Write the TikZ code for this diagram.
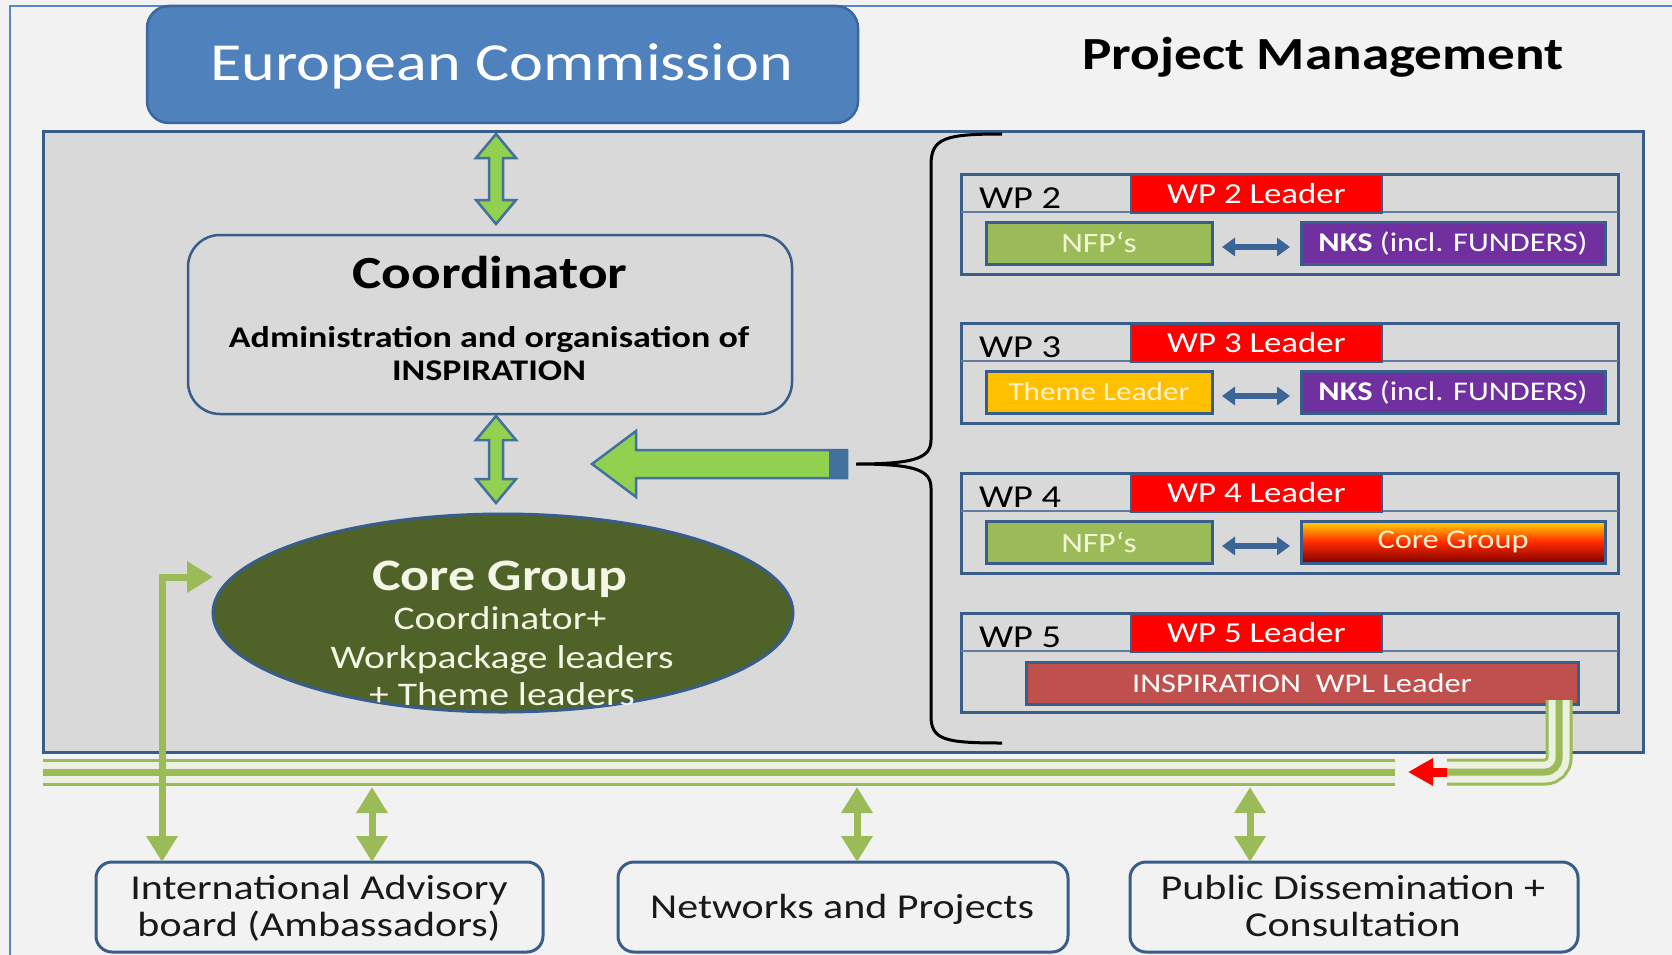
\documentclass[tikz,border=0pt]{standalone}
\usepackage{fontspec}
\setmainfont{Carlito}[FakeStretch=1.2]
\usetikzlibrary{arrows.meta,shapes.geometric,calc}
\definecolor{bgc}{HTML}{F2F2F2}
\definecolor{frameb}{HTML}{5B86C0}
\definecolor{ecfill}{HTML}{4F81BD}
\definecolor{ecdraw}{HTML}{3A679E}
\definecolor{boxg}{HTML}{D9D9D9}
\definecolor{bdr}{HTML}{385D8A}
\definecolor{agreen}{HTML}{92D050}
\definecolor{adraw}{HTML}{41719C}
\definecolor{coreg}{HTML}{4F6228}
\definecolor{cortext}{HTML}{F4F6E6}
\definecolor{wpred}{HTML}{FF0000}
\definecolor{nfpg}{HTML}{9BBB59}
\definecolor{nfptext}{HTML}{F2F7D5}
\definecolor{nkspurple}{HTML}{7030A0}
\definecolor{themeo}{HTML}{FFC000}
\definecolor{themetext}{HTML}{FFF2CC}
\definecolor{inspr}{HTML}{C0504D}
\definecolor{busg}{HTML}{9BBB59}
\definecolor{busl}{HTML}{EBF1DE}
\definecolor{smarr}{HTML}{3B6497}
\definecolor{cgtop}{HTML}{FFD800}
\definecolor{cgmid}{HTML}{FF2A00}
\definecolor{cgbot}{HTML}{7F0000}
\newcommand\myfs[1]{\fontsize{#1}{#1}\selectfont}
\newcommand\gdarrow[2]{\filldraw[garrow] let \p1=#1, \p2=#2 in
 (\x1,\y1) -- (\x1+20pt,\y1-24pt) -- (\x1+7pt,\y1-24pt) -- (\x1+7pt,\y2+24pt)
 -- (\x1+20pt,\y2+24pt) -- (\x1,\y2) -- (\x1-20pt,\y2+24pt) -- (\x1-7pt,\y2+24pt)
 -- (\x1-7pt,\y1-24pt) -- (\x1-20pt,\y1-24pt) -- cycle;}
\tikzset{gtip/.tip={Triangle[width=30pt,length=26pt]}}
\begin{document}
\begin{tikzpicture}[x=1pt,y=-1pt,
  every node/.style={outer sep=0pt},
  ecbox/.style={draw=ecdraw,line width=2.5,fill=ecfill,rounded corners=22},
  bigbox/.style={draw=bdr,line width=3,fill=boxg},
  coordbox/.style={draw=bdr,line width=2.5,fill=boxg,rounded corners=32},
  coreell/.style={ellipse,draw=bdr,line width=3,fill=coreg,minimum width=580,minimum height=198,inner sep=0pt},
  garrow/.style={draw=adraw,line width=2.5,fill=agreen,line join=miter},
  wpbox/.style={draw=bdr,line width=3,fill=boxg,minimum width=657,minimum height=100,anchor=north west,inner sep=0pt},
  divline/.style={draw=bdr!80,line width=1.2},
  leadbox/.style={draw=bdr,line width=2,fill=wpred,text=white,font=\myfs{29},minimum width=251,minimum height=38,anchor=north west,inner sep=0pt},
  wplab/.style={anchor=base west,font=\myfs{32},text=black,inner sep=0pt},
  inbox/.style={draw=bdr,line width=3,minimum height=42,anchor=north west,inner sep=0pt,font=\myfs{28}},
  nfpbox/.style={inbox,fill=nfpg,text=nfptext,minimum width=226},
  nksbox/.style={inbox,fill=nkspurple,text=white,minimum width=304,font=\myfs{27}},
  themebox/.style={inbox,fill=themeo,text=themetext,minimum width=226,font=\myfs{26}},
  cgbox/.style={inbox,top color=cgtop,bottom color=cgbot,middle color=cgmid,text=themetext,minimum width=304,font=\myfs{27}},
  wplbox/.style={inbox,fill=inspr,text=white,minimum width=552,font=\myfs{27}},
  smallarr/.style={draw=smarr,line width=6,{Triangle[width=18pt,length=13pt]}-{Triangle[width=18pt,length=13pt]},shorten <=10pt,shorten >=11pt},
  bus/.style={line width=27,draw=busg,postaction={draw=busl,line width=21},postaction={draw=busg,line width=7}},
  gline/.style={draw=busg,line width=7},
  botbox/.style={draw=bdr,line width=3,fill=bgc,rounded corners=16,minimum height=90,anchor=north west,inner sep=0pt},
  bottext/.style={font=\myfs{35},text=black!90,anchor=base,inner sep=0pt},
  brace/.style={draw=black,line width=3}
]
\useasboundingbox (0,0) rectangle (1672,955);
\fill[bgc] (0,0) rectangle (1672,955);
\draw[frameb,line width=2] (10,955) -- (10,6) -- (1672,6);

% main grey area
\node[bigbox,minimum width=1600,minimum height=620,anchor=north west,inner sep=0pt] (main) at (43,132) {};

% European Commission
\node[ecbox,minimum width=711,minimum height=117,inner sep=0pt] (ec) at (502.5,64.5) {};
\node[anchor=base,inner sep=0pt,text=white,font=\myfs{53.5}] (ect) at (502,81) {European Commission};

% Project Management
\node[anchor=base,inner sep=0pt,font=\myfs{46}\bfseries] (pm) at (1323,70) {Project Management};

% Coordinator
\node[coordbox,minimum width=604,minimum height=179,inner sep=0pt] (coord) at (490,324.5) {};
\node[anchor=base,inner sep=0pt,font=\myfs{46}\bfseries] (ct1) at (490,288) {Coordinator};
\node[anchor=base,inner sep=0pt,font=\myfs{30}\bfseries] (ct2) at (489,347) {Administration\ and\ organisation\ of};
\node[anchor=base,inner sep=0pt,font=\myfs{30}\bfseries] (ct3) at (489,380) {INSPIRATION};

% Core group ellipse
\node[coreell] (core) at (503,613) {};
\node[anchor=base,inner sep=0pt,text=cortext,font=\myfs{45}\bfseries] (cg1) at (500,590) {Core Group};
\node[anchor=base,inner sep=0pt,text=cortext,font=\myfs{33}] (cg2) at (500,629) {Coordinator+};
\node[anchor=base,inner sep=0pt,text=cortext,font=\myfs{33}] (cg3) at (502,668) {Workpackage leaders};
\node[anchor=base,inner sep=0pt,text=cortext,font=\myfs{33}] (cg4) at (502,705) {+ Theme leaders};

% green double arrows
\gdarrow{($(ec.south)+(-6.5,11)$)}{($(coord.north)+(0,-11)$)}
\gdarrow{($(coord.south)+(6,2)$)}{($(core.north)+(0,-11)$)}

% brace and big arrow
\coordinate (bt) at (856,464);
\coordinate (bigtip) at (592,464);
\draw[brace] (1002,134) .. controls (945,134) and (931,138) .. (931,165) -- (931,440)
  .. controls (931,458) and (915,464) .. (bt)
  .. controls (915,464) and (931,470) .. (931,488) -- (931,716)
  .. controls (931,740) and (945,743) .. (1002,743);
\filldraw[garrow] let \p1=($(bt)+(-9,0)$), \p2=(bigtip) in
  (\x2,\y2) -- (\x2+44pt,\y2+33pt) -- (\x2+44pt,\y2+14pt) -- (\x1,\y1+14pt)
  -- (\x1,\y1-14pt) -- (\x2+44pt,\y2-14pt) -- (\x2+44pt,\y2-33pt) -- cycle;
\fill[adraw] let \p1=($(bt)+(-9,0)$) in (\x1-18pt,\y1+14pt) rectangle (\x1,\y1-14pt);

% WP 2
\node[wpbox] (wp2) at (961,174) {};
\draw[divline] ($(wp2.north west)+(0,38)$) -- ($(wp2.north east)+(0,38)$);
\node[leadbox] (wp2l) at ($(wp2.north west)+(170,1)$) {WP 2 Leader};
\node[wplab] (wp2t) at ($(wp2.north west)+(18,34)$) {WP 2};
\node[nfpbox] (wp2a) at ($(wp2.north west)+(25,48)$) {NFP‘s};
\node[nksbox] (wp2b) at ($(wp2.north west)+(340,48)$) {\textbf{NKS} (incl. FUNDERS)};
\draw[smallarr] ($(wp2a.east)+(0,4)$) -- ($(wp2b.west)+(0,4)$);

% WP 3
\node[wpbox] (wp3) at (961,323) {};
\draw[divline] ($(wp3.north west)+(0,38)$) -- ($(wp3.north east)+(0,38)$);
\node[leadbox] (wp3l) at ($(wp3.north west)+(170,1)$) {WP 3 Leader};
\node[wplab] (wp3t) at ($(wp3.north west)+(18,34)$) {WP 3};
\node[themebox] (wp3a) at ($(wp3.north west)+(25,48)$) {Theme Leader};
\node[nksbox] (wp3b) at ($(wp3.north west)+(340,48)$) {\textbf{NKS} (incl. FUNDERS)};
\draw[smallarr] ($(wp3a.east)+(0,4)$) -- ($(wp3b.west)+(0,4)$);

% WP 4
\node[wpbox] (wp4) at (961,473) {};
\draw[divline] ($(wp4.north west)+(0,38)$) -- ($(wp4.north east)+(0,38)$);
\node[leadbox] (wp4l) at ($(wp4.north west)+(170,1)$) {WP 4 Leader};
\node[wplab] (wp4t) at ($(wp4.north west)+(18,34)$) {WP 4};
\node[nfpbox] (wp4a) at ($(wp4.north west)+(25,48)$) {NFP‘s};
\node[cgbox] (wp4b) at ($(wp4.north west)+(340,48)$) {Core Group};
\draw[smallarr] ($(wp4a.east)+(0,4)$) -- ($(wp4b.west)+(0,4)$);

% WP 5
\node[wpbox,minimum height=99] (wp5) at (961,613) {};
\draw[divline] ($(wp5.north west)+(0,38)$) -- ($(wp5.north east)+(0,38)$);
\node[leadbox] (wp5l) at ($(wp5.north west)+(170,1)$) {WP 5 Leader};
\node[wplab] (wp5t) at ($(wp5.north west)+(18,34)$) {WP 5};
\node[wplbox] (wp5c) at ($(wp5.north west)+(65,49)$) {INSPIRATION\ \ WPL Leader};

% bus
\coordinate (busW) at (43,772);
\coordinate (busE) at (1395,772);
\draw[bus] (busW) -- (busE);
\coordinate (wplout) at ($(wp5c.south east)+(-19,-4)$);
\coordinate (redtail) at (1447,772);
\draw[bus,rounded corners=14] (wplout) |- (redtail);
\draw[draw=red,line width=9,-{Triangle[width=26pt,length=25pt]},shorten >=13pt] (redtail) -- (busE);

% bottom boxes
\node[botbox,minimum width=447] (iab) at (96,862) {};
\node[botbox,minimum width=450] (nap) at (618,862) {};
\node[botbox,minimum width=448] (pdc) at (1130,862) {};
\node[bottext] (iab1) at (319,899) {International Advisory};
\node[bottext] (iab2) at (319,936) {board (Ambassadors)};
\node[bottext] (nap1) at (842,918) {Networks and Projects};
\node[bottext] (pdc1) at (1353,899) {Public Dissemination +};
\node[bottext] (pdc2) at (1353,936) {Consultation};

% bottom arrows
\coordinate (b1) at (372,787);
\coordinate (b2) at (857,787);
\coordinate (b3) at (1250,787);
\draw[gline,gtip-gtip] (b1) -- (b1 |- iab.north);
\draw[gline,gtip-gtip] (b2) -- (b2 |- nap.north);
\draw[gline,gtip-gtip] (b3) -- (b3 |- pdc.north);
\coordinate (lA) at ($(iab.north west)+(66,0)$);
\coordinate (lB) at ($(core.west)+(0,-36)$);
\draw[gline,gtip-gtip] (lA) |- (lB);
\end{tikzpicture}
\end{document}
